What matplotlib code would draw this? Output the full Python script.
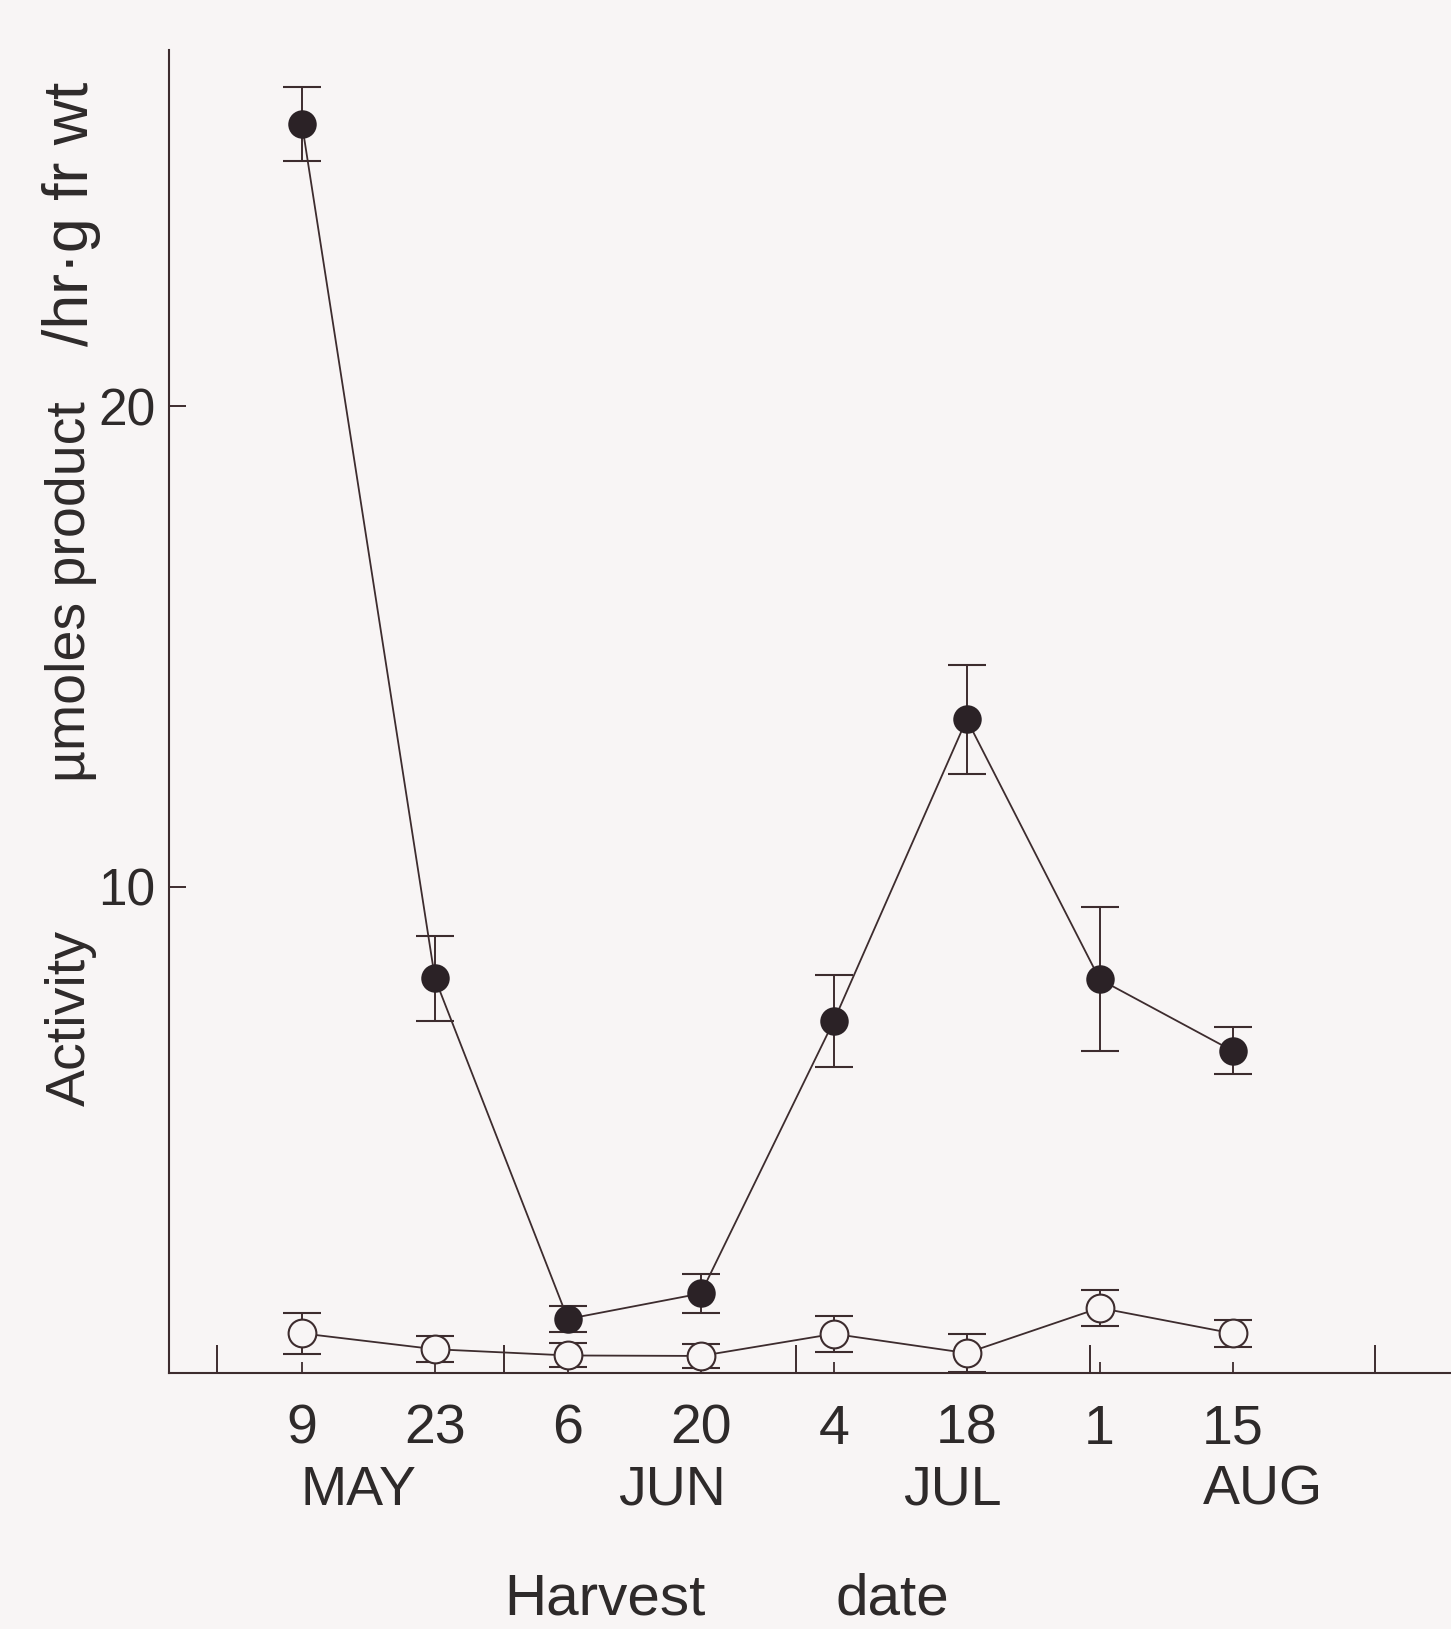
import matplotlib
matplotlib.use("Agg")
import matplotlib.pyplot as plt
import matplotlib.transforms as mtransforms

plt.rcParams['font.family'] = ['Liberation Sans', 'DejaVu Sans']

# ---- data ----
harvest_day = [0, 14, 28, 42, 56, 70, 84, 98]          # days after 9 May
day_labels = ["9", "23", "6", "20", "4", "18", "1", "15"]
filled_vals = [25.87, 8.09, 1.00, 1.53, 7.20, 13.48, 8.07, 6.58]
filled_err = [0.77, 0.88, 0.27, 0.41, 0.95, 1.14, 1.50, 0.49]
open_vals = [0.70, 0.37, 0.24, 0.23, 0.69, 0.29, 1.23, 0.70]
open_err = [0.43, 0.27, 0.25, 0.25, 0.37, 0.40, 0.38, 0.28]
month_names = ["MAY", "JUN", "JUL", "AUG"]
month_label_day = [5.9, 39.0, 68.5, 101.2]
month_tick_day = [-9.0, 21.3, 52.0, 83.0, 113.0]
y_ticks = [10, 20]

# ---- style ----
bg = "#f8f5f5"
ink = "#3d2c2e"
mark = "#2b2226"
txt = "#2e2a2a"

fig = plt.figure(figsize=(14.51, 16.29), dpi=100, facecolor=bg)
ax = fig.add_axes([0.1165, 0.157, 0.8835, 0.812])
ax.set_facecolor(bg)

ax.errorbar(harvest_day, filled_vals, yerr=filled_err, fmt='o', color=ink,
            ms=19, mfc=mark, mec=mark, mew=1.5, elinewidth=1.4, capsize=14,
            capthick=1.4, ls='-', lw=1.3, zorder=3)
ax.errorbar(harvest_day, open_vals, yerr=open_err, fmt='o', color=ink,
            ms=20, mfc=bg, mec=ink, mew=1.5, elinewidth=1.4, capsize=14,
            capthick=1.4, ls='-', lw=1.3, zorder=3)

ax.set_xlim(-14, 121)
ax.set_ylim(-0.13, 27.4)

for s in ['top', 'right']:
    ax.spines[s].set_visible(False)
for s in ['left', 'bottom']:
    ax.spines[s].set_color(ink)
    ax.spines[s].set_linewidth(1.5)

ax.set_yticks(y_ticks)
ax.set_yticklabels([str(v) for v in y_ticks])
ax.tick_params(axis='y', direction='in', length=12, width=1.4, color=ink,
               labelsize=37, labelcolor=txt, pad=10)

ax.set_xticks(harvest_day)
ax.set_xticklabels(day_labels)
ax.set_xticks(month_tick_day, minor=True)
ax.tick_params(axis='x', which='major', direction='in', length=8, width=1.3,
               color=ink, labelsize=40, labelcolor=txt, pad=22)
ax.tick_params(axis='x', which='minor', direction='in', length=20, width=1.4,
               color=ink)

trans = mtransforms.blended_transform_factory(ax.transData, ax.transAxes)
for name, d in zip(month_names, month_label_day):
    ax.text(d, -0.069, name, transform=trans, ha='center', va='top',
            fontsize=40, color=txt)

fig.text(0.417, 0.018, "Harvest", ha='center', va='center', fontsize=42, color=txt)
fig.text(0.615, 0.018, "date", ha='center', va='center', fontsize=42, color=txt)

fig.text(0.049, 0.375, "Activity", rotation=90, ha='center', va='center',
         fontsize=40, color=txt)
fig.text(0.049, 0.637, "\u00b5moles product", rotation=90, ha='center', va='center',
         fontsize=40, color=txt)
fig.text(0.049, 0.869, "/hr\u00b7g fr wt", rotation=90, ha='center', va='center',
         fontsize=45, color=txt)

fig.savefig("out.png", dpi=100, facecolor=bg)
